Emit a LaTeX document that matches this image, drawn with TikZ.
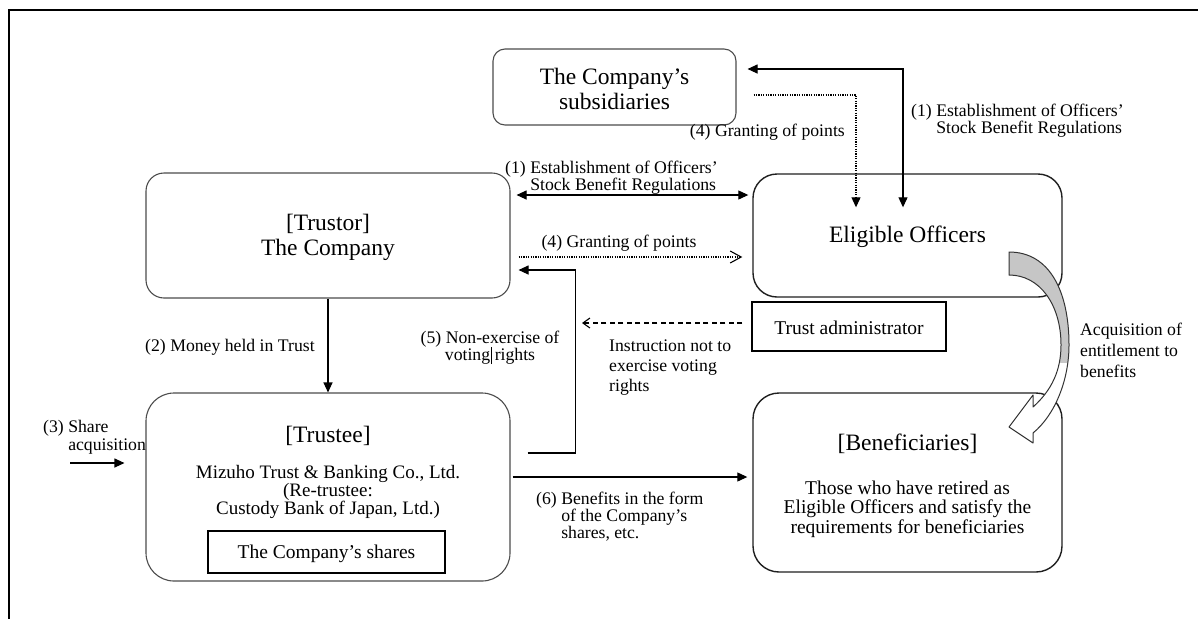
\documentclass[tikz,border=0pt]{standalone}
\usepackage{fontspec}
\setmainfont{Liberation Serif}
\usetikzlibrary{arrows.meta}
\begin{document}
\begin{tikzpicture}[x=1pt,y=-1pt,
  rbox/.style={draw=black!70, line width=1.1pt, rounded corners=#1, inner sep=0pt},
  rbox/.default=15pt,
  dbox/.style={draw=black!88, line width=1.4pt, rounded corners=#1, inner sep=0pt},
  dbox/.default=15pt,
  sbox/.style={draw=black, line width=1.3pt, inner sep=0pt},
  bigtxt/.style={font={\fontsize{23.5}{25}\selectfont\lineskiplimit=-\maxdimen}, align=center, inner sep=0pt},
  midtxt/.style={font={\fontsize{19.5}{#1}\selectfont\lineskiplimit=-\maxdimen}, align=center, inner sep=0pt},
  midtxt/.default=19.5,
  labtxt/.style={font={\fontsize{17.7}{#1}\selectfont\lineskiplimit=-\maxdimen}, align=left, inner sep=0pt},
  labtxt/.default=17,
  conn/.style={line width=1.1pt, draw=black},
  tipA/.style={-{Triangle[length=10pt,width=9pt]}},
  tipAA/.style={{Triangle[length=10pt,width=9pt]}-{Triangle[length=10pt,width=9pt]}}
]
\useasboundingbox (0,0) rectangle (1198,619);
\draw[line width=1.4pt] (1198,10) -- (9,10) -- (9,619);

% boxes
\node[rbox=12pt, minimum width=243pt, minimum height=76pt] (subs) at (614.5,87) {};
\node[rbox=18pt, minimum width=364pt, minimum height=125pt] (trustor) at (328,235.5) {};
\node[dbox=24pt, minimum width=309pt, minimum height=123pt] (eo) at (907.5,235.5) {};
\node[sbox, minimum width=194pt, minimum height=49pt] (tadmin) at (849,326.5) {};
\node[rbox=28pt, minimum width=364pt, minimum height=188pt] (trustee) at (328,487) {};
\node[sbox, minimum width=237pt, minimum height=42pt] (shares) at (326.5,552) {};
\node[dbox=26pt, minimum width=309pt, minimum height=179pt] (benef) at (907.5,482.5) {};

% box texts
\node[bigtxt, anchor=north] (subsT) at (614.5,66.5) {\strut The Company’s\\subsidiaries\strut};
\node[bigtxt, anchor=north] (trustorT) at (328,212.5) {\strut[Trustor]\\The Company\strut};
\node[bigtxt, anchor=base] (eoT) at (907.5,242) {Eligible Officers};
\node[midtxt, anchor=base] (tadminT) at (849,334) {Trust administrator};
\node[bigtxt, anchor=base] (trusteeT) at (328,442) {[Trustee]};
\node[font={\fontsize{19}{18}\selectfont\lineskiplimit=-\maxdimen}, align=center, inner sep=0pt, anchor=north] (mizuho) at (328,465.5) {\strut Mizuho Trust \& Banking Co., Ltd.\\(Re-trustee:\\Custody Bank of Japan, Ltd.)\strut};
\node[midtxt, anchor=base] (sharesT) at (326.5,558) {The Company’s shares};
\node[bigtxt, anchor=base] (benefT) at (907.5,450) {[Beneficiaries]};
\node[midtxt=19.5, anchor=north] (benefD) at (907.5,480.4) {\strut Those who have retired as\\Eligible Officers and satisfy the\\requirements for beneficiaries\strut};

% labels
\node[labtxt=17, anchor=north west] (l1b) at (911,103.4) {\strut(1) Establishment of Officers’\\\hphantom{(1) }Stock Benefit Regulations\strut};
\node[labtxt, anchor=base east] (l4a) at (845,136.3) {(4) Granting of points};
\node[labtxt=17, anchor=north west] (l1a) at (505,160.4) {\strut(1) Establishment of Officers’\\\hphantom{(1) }Stock Benefit Regulations\strut};
\node[labtxt, anchor=base] (l4b) at (619,247.3) {(4) Granting of points};
\node[labtxt, anchor=base west] (l2) at (145,351.3) {(2) Money held in Trust};
\node[labtxt=17, anchor=north, align=center] (l5) at (490,330.4) {\strut(5) Non-exercise of\\voting\hspace{1pt}\rule[-4pt]{1.1pt}{17pt}\hspace{2.5pt}rights\strut};
\node[labtxt=20, anchor=north west] (linstr) at (609,337.3) {\strut Instruction not to\\exercise voting\\rights\strut};
\node[labtxt=21, anchor=north west] (lacq) at (1080,320.6) {\strut Acquisition of\\entitlement to\\benefits\strut};
\node[labtxt=18, anchor=north west] (l3) at (43,419.7) {\strut(3) Share\\\hphantom{(3) }acquisition\strut};
\node[labtxt=17, anchor=north west] (l6) at (536,491.4) {\strut(6) Benefits in the form\\\hphantom{(6) }of the Company’s\\\hphantom{(6) }shares, etc.\strut};

% connectors
\draw[conn, tipAA] ([shift={(11pt,18pt)}]subs.east) -| ([shift={(-4.5pt,-34pt)}]eo.north);
\draw[conn, dash pattern=on 1.2pt off 1.2pt, tipA] ([shift={(17pt,-8pt)}]subs.east) -| ([shift={(-51.5pt,-34pt)}]eo.north);
\draw[conn, tipAA] ([shift={(6pt,40.5pt)}]trustor.east) -- ([shift={(-4pt,40.5pt)}]eo.west);
\draw[conn, dash pattern=on 1.2pt off 1.2pt, -{Straight Barb[length=11pt,width=12pt]}] ([shift={(8pt,-21.5pt)}]trustor.east) -- ([shift={(-10pt,-21.5pt)}]eo.west);
\draw[conn, tipA] (trustor.south) -- (trustee.north);
\draw[conn, tipA] ([shift={(17pt,34pt)}]trustee.east) -| ([shift={(65pt,-34.5pt)}]trustor.east) -- ([shift={(8pt,-34.5pt)}]trustor.east);
\coordinate (dashend) at (582,323);
\draw[conn, dash pattern=on 5pt off 3.5pt, -{Straight Barb[length=7pt,width=10pt]}] ([shift={(-9pt,3.5pt)}]tadmin.west) -- (dashend);
\draw[conn, tipA] ([shift={(2pt,10pt)}]trustee.east) -- ([shift={(-5pt,5.5pt)}]benef.west);
\coordinate (s3) at (70,463);
\draw[conn, tipA] (s3) -- ([shift={(-21pt,24pt)}]trustee.west);

% curved block arrow
\fill[white] (1009,252) .. controls (1050,252) and (1069,292) .. (1069,345) .. controls (1069,380) and (1055,415) .. (1033,433) -- (1033,443) -- (1009,427) -- (1033,395) -- (1033,407) .. controls (1052,390) and (1061,370) .. (1061,345) .. controls (1061,305) and (1040,275) .. (1009,275) -- cycle;
\begin{scope}
\clip (990,240) rectangle (1080,362);
\fill[gray!45] (1009,252) .. controls (1050,252) and (1069,292) .. (1069,345) .. controls (1069,380) and (1055,415) .. (1033,433) -- (1033,443) -- (1009,427) -- (1033,395) -- (1033,407) .. controls (1052,390) and (1061,370) .. (1061,345) .. controls (1061,305) and (1040,275) .. (1009,275) -- cycle;
\end{scope}
\draw[line width=1pt, black!80, line join=round] (1009,252) .. controls (1050,252) and (1069,292) .. (1069,345) .. controls (1069,380) and (1055,415) .. (1033,433) -- (1033,443) -- (1009,427) -- (1033,395) -- (1033,407) .. controls (1052,390) and (1061,370) .. (1061,345) .. controls (1061,305) and (1040,275) .. (1009,275) -- cycle;
\end{tikzpicture}
\end{document}
